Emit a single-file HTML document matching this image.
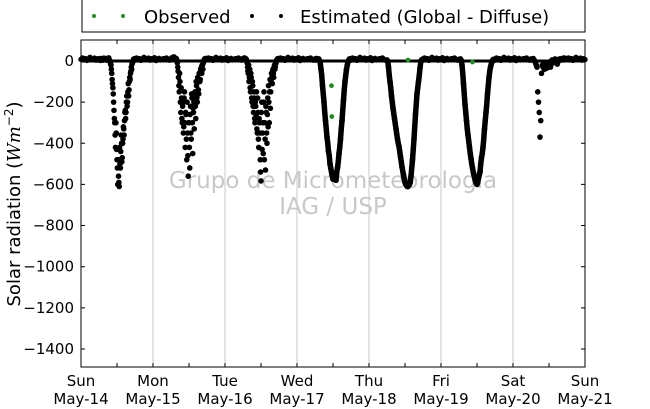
<!DOCTYPE html>
<html><head><meta charset="utf-8"><style>
body{margin:0;background:#fff;}
svg{display:block;font-family:"DejaVu Sans","Liberation Sans",sans-serif;}
</style></head><body>
<svg id="chart" width="650" height="409" viewBox="0 0 650 409">
  <rect x="0" y="0" width="650" height="409" fill="#fff"/>
  <g>
    <rect x="82" y="-1" width="503" height="33" fill="#fff" stroke="#000" stroke-width="1"/>
    <g>
      <circle cx="94" cy="16" r="2" fill="#228b22"/><circle cx="123" cy="16" r="2" fill="#228b22"/>
      <text x="144" y="23" font-size="18">Observed</text>
    </g>
    <g>
      <circle cx="252" cy="16" r="2" fill="#000"/><circle cx="281" cy="16" r="2" fill="#000"/>
      <text x="300" y="23" font-size="18">Estimated (Global - Diffuse)</text>
    </g>
  </g>
  <text x="333" y="188" font-size="23" fill="#c8c8c8" text-anchor="middle">Grupo de Micrometeorologia</text>
  <text x="333" y="214" font-size="23" fill="#c8c8c8" text-anchor="middle">IAG / USP</text>
  <g id="grid"></g>
  <g id="marks"></g>
  <rect x="81" y="40" width="504" height="327" fill="none" stroke="#000" stroke-width="1"/>
  <g id="axes"></g>
  <text transform="translate(20,204) rotate(-90)" font-size="18" text-anchor="middle">Solar radiation (<tspan font-family="DejaVu Serif" font-style="italic">Wm</tspan><tspan font-size="12" dy="-7">−2</tspan><tspan dy="7">)</tspan></text>
</svg>
<script>
const dayNames = ["Sun","Mon","Tue","Wed","Thu","Fri","Sat","Sun"];
const dayDates = ["May-14","May-15","May-16","May-17","May-18","May-19","May-20","May-21"];
const yTicks = [0,-200,-400,-600,-800,-1000,-1200,-1400];
const startHour = 6, stepHour = 0.25;
const sun14 = [5,10,3,8,12,5,10,8,6,12,9,4,10,15,3,-5, -20,-60,-110,-160,-240,-300,-420,-350, -480,-600,-560,-610,-500,-440,-400,-470, -380,-330,-290,-240,-250,-170,-200,-110, -140,-80,-60,-30,-15,-5,8,10, 5];
const mon15 = [10,15,8,12,20,10,5,12, 0,-30,-80,-150,-100,-250,-180,-300, -200,-320,-150,-420,-260,-480,-350,-560, -300,-520,-220,-380,-180,-450,-250,-330, -150,-280,-120,-200,-100,-160,-60,-90, -40,-60,-20,-10,5,10,8,12, 10];
const tue16 = [12,8,15,10,5,0,-30,-60, -100,-40,-150,-80,-200,-120,-250,-180, -300,-220,-150,-350,-250,-420,-300,-480, -583,-200,-350,-450,-150,-300,-530,-250, -400,-180,-120,-300,-90,-150,-60,-110, -40,-80,-20,-30,-10,5,10,8, 10];
const wed17 = [10,5,12,8,6,10,3,-10, -40,-70,-120,-160,-200,-250,-290,-330, -370,-400,-440,-460,-500,-520,-540,-560, -575,-560,-570,-550,-580,-540,-520,-490, -450,-420,-380,-330,-290,-240,-190,-140, -100,-70,-40,-20,-5,5,10,8, 5];
const thu18 = [5,0,-30,-70,-100,-130,-170,-200, -230,-255,-280,-305,-330,-355,-380,-400, -415,-440,-465,-490,-515,-535,-555,-575, -590,-600,-605,-610,-610,-605,-600,-590, -560,-520,-480,-430,-380,-320,-260,-210, -160,-130,-100,-70,-35,-5,5,8, 5];
const fri19 = [8,5,10,3,-20,-60,-110,-160, -210,-250,-290,-330,-360,-390,-420,-450, -475,-500,-520,-540,-555,-570,-585,-595, -600,-590,-570,-555,-540,-500,-470,-450, -420,-380,-330,-290,-250,-210,-160,-120, -80,-50,-30,-15,-5,5,8,5, 5];
const sat20 = [10,5,8,12,6,0,-10,-20, -30,-150,-200,-250,-370,-290,-60,-20, -30,-15,-40,-10,-25,-35,-20,-10, -5,-20,-30,-15,5,-10,0,5, 10,5,0,-15,-5,8,10,5, 10,12,5,8,15,10,8,12, 10];
const sun14b = [8,12,6,10,4,9,14,7,11,5,10,13,6,8,0,-15, -40,-90,-130,-200,-280,-360,-300,-430, -520,-480,-590,-420,-520,-360,-490,-400, -320,-360,-250,-280,-200,-220,-150,-170, -100,-90,-50,-40,-10,0,10,6, 8];
const mon15b = [12,8,18,10,14,6,10,8, -10,-50,-120,-60,-200,-130,-280,-220, -350,-180,-300,-250,-380,-200,-460,-300, -420,-260,-350,-160,-300,-230,-200,-160, -220,-100,-180,-80,-140,-60,-100,-40, -30,-20,-40,-5,8,12,10,6, 12];
const tue16b = [10,14,6,12,8,-10,-50,-20, -80,-130,-60,-180,-100,-220,-150,-280, -200,-260,-330,-180,-380,-280,-350,-540, -250,-430,-300,-200,-480,-380,-220,-350, -260,-320,-200,-150,-230,-100,-80,-50, -60,-30,-40,-15,0,8,12,10, 8];
const nightNoise = [8,15,5,12,3,10,18,6,9,14,4,11,7,16,2,10,13,5,9,12,6,15,8,4];
const observedDay = [3,3,4,5];
const observedHour = [11.5,11.6,13,10.5];
const observedValue = [-120,-270,5,-5];

const days = [sun14,mon15,tue16,wed17,thu18,fri19,sat20];
const extraDays = [sun14b,mon15b,tue16b];
const clearDays = [3,4,5];
const NS = "http://www.w3.org/2000/svg";
const X0 = 81, X1 = 585, Y0 = 61, PX200 = 41.14;
function xScale(dayFloat){ return X0 + dayFloat * (X1 - X0) / 7; }
function yScale(v){ return Y0 - v / 200 * PX200; }
const grid = document.getElementById("grid");
const marks = document.getElementById("marks");
const axes = document.getElementById("axes");
function mk(tag, attrs, parent){ const e = document.createElementNS(NS, tag); for (const k in attrs) e.setAttribute(k, attrs[k]); parent.appendChild(e); return e; }

for (let d = 1; d < 7; d++) {
  const gl = mk("line", {x1: xScale(d), x2: xScale(d), y1: 40, y2: 367, stroke: "#c8c8c8", "stroke-width": 1}, grid);
  
  
}
for (let i = 0; i < dayNames.length; i++) {
  const t = mk("text", {x: xScale(i), y: 386, "font-size": 15, "text-anchor": "middle"}, axes);
  
  
  t.textContent = dayNames[i];
  const t2 = mk("text", {x: xScale(i), y: 404, "font-size": 15, "text-anchor": "middle"}, axes);
  
  
  t2.textContent = dayDates[i];
}
for (let h = 0; h <= 14; h++) {
  const x = xScale(h / 2);
  const tk = mk("path", {d: `M${x},367v-4M${x},40v4`, stroke: "#000", "stroke-width": 1}, axes);
  
  
}
for (const v of yTicks) {
  const y = yScale(v);
  const tk = mk("path", {d: `M81,${y}h4M585,${y}h-4`, stroke: "#000", "stroke-width": 1}, axes);
  
  
  const t = mk("text", {x: 74, y: y + 5, "font-size": 15, "text-anchor": "end"}, axes);
  
  
  t.textContent = v === 0 ? "0" : "−" + Math.abs(v);
}
const base = mk("line", {x1: X0, x2: X1, y1: yScale(0), y2: yScale(0), stroke: "#000", "stroke-width": 3}, marks);


for (let d = 0; d < 7; d++) {
  for (let i = 0; i < nightNoise.length; i++) {
    const df = d + (18 + i * 0.5) / 24;
    if (df > 7) continue;
    const c = mk("circle", {cx: xScale(df), cy: yScale(nightNoise[i]), r: 2.7, fill: "#000"}, marks);
    
    
  }
  if (d === 0) {
    for (let i = 0; i < 12; i++) {
      const c = mk("circle", {cx: xScale(i * 0.5 / 24), cy: yScale(nightNoise[i]), r: 2.7, fill: "#000"}, marks);
      
      
    }
  }
}
function drawDay(vals, d, offset) {
  const pts = vals.map((v, i) => [xScale(d + (startHour + offset + i * stepHour) / 24), yScale(v)]);
  if (clearDays.includes(d)) {
    const pl = mk("polyline", {points: pts.map(p => p.join(",")).join(" "), fill: "none", stroke: "#000", "stroke-width": 5.5, "stroke-linejoin": "round", "stroke-linecap": "round"}, marks);
    
    
  }
  pts.forEach(p => {
    const c = mk("circle", {cx: p[0], cy: p[1], r: 2.8, fill: "#000"}, marks);
    
    
  });
}
days.forEach((vals, d) => drawDay(vals, d, 0));
extraDays.forEach((vals, d) => drawDay(vals, d, 0.125));
observedDay.forEach((d, i) => {
  const c = mk("circle", {cx: xScale(d + observedHour[i] / 24), cy: yScale(observedValue[i]), r: 2.4, fill: "#228b22"}, marks);
  
  
});
</script>
</body></html>
